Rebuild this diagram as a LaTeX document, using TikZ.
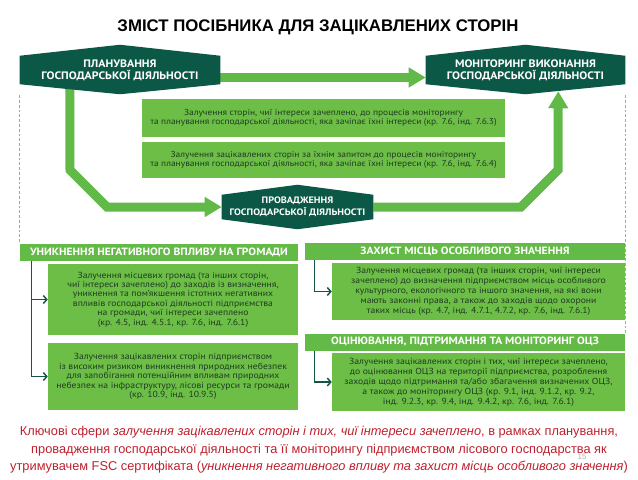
\documentclass[tikz,border=0pt]{standalone}
\usepackage{fontspec}
\setmainfont[FakeStretch=1.1]{PT Sans}
\newfontfamily\arialfont{Liberation Sans}
\usepackage{xcolor}
\usepackage{tikz}
\usetikzlibrary{calc,arrows.meta,backgrounds}

\definecolor{hexgreen}{RGB}{12,88,70}
\definecolor{flowgreen}{RGB}{97,185,72}
\definecolor{boxgreen}{RGB}{108,190,70}
\definecolor{hdrgreen}{RGB}{100,186,70}
\definecolor{textdark}{RGB}{32,60,34}
\definecolor{linkgreen}{RGB}{20,85,70}
\definecolor{capred}{RGB}{190,32,45}

% hexagon behind a named node: node, top rise, bottom drop
\newcommand{\hexfill}[3]{%
  \fill[hexgreen] (#1.north west) -- ($(#1.north)+(0,-#2)$) -- (#1.north east)
    -- (#1.south east) -- ($(#1.south)+(0,#3)$) -- (#1.south west) -- cycle;}

\begin{document}
\begin{tikzpicture}[x=0.75pt,y=-0.75pt,
  hexnode/.style={text=white,font=\fontsize{8.1}{8.8}\selectfont\bfseries,align=center,inner sep=0pt,minimum height=21pt},
  infobox/.style={fill=boxgreen,text=textdark,align=center,inner sep=0pt},
  hdrbar/.style={fill=hdrgreen,text=white,font=\fontsize{7.9}{9}\selectfont\bfseries,inner sep=0pt,minimum height=12.75pt},
  flow/.style={draw=flowgreen,line width=6.75pt,line join=miter,-{Triangle[length=12.75pt,width=14.25pt]}},
  link/.style={draw=linkgreen,line width=1.1pt,-{Straight Barb[length=2.6pt,width=6pt]}},
  guide/.style={draw=gray!70,line width=0.8pt,dash pattern=on 2pt off 1.6pt}]

  \useasboundingbox (0,0) rectangle (638,479);

  \node[font=\arialfont\bfseries\fontsize{12.6}{14}\selectfont] (title) at (318,27) {ЗМІСТ ПОСІБНИКА ДЛЯ ЗАЦІКАВЛЕНИХ СТОРІН};

  \node[hexnode,minimum width=150pt] (plan) at (120,70) {ПЛАНУВАННЯ\\ГОСПОДАРСЬКОЇ ДІЯЛЬНОСТІ};
  \node[hexnode,minimum width=149.25pt] (mon) at (525.5,70) {МОНІТОРИНГ ВИКОНАННЯ\\ГОСПОДАРСЬКОЇ ДІЯЛЬНОСТІ};
  \node[hexnode,minimum width=113.25pt,minimum height=18pt,font=\fontsize{7}{8.8}\selectfont\bfseries] (prod) at (297.5,207) {ПРОВАДЖЕННЯ\\ГОСПОДАРСЬКОЇ ДІЯЛЬНОСТІ};

  \begin{scope}[on background layer]
    \draw[flow] ($(plan.east)+(0,7.5)$) -- ($(mon.west)+(0,7.5)$);
    \draw[flow] ($(plan.south west)+(50,0)$) -- (70,170) -- (107,207) -- (prod.west);
    \draw[flow] (prod.east) -- (521,207) -- (558,170) -- ($(mon.south east)+(-67,7)$);
    \hexfill{plan}{11}{10}
    \hexfill{mon}{11}{10}
    \hexfill{prod}{10}{10}
  \end{scope}

  \node[infobox,minimum width=272.25pt,minimum height=28.5pt,font=\fontsize{6.45}{6.7}\selectfont] (mid1) at (323.5,118)
    {Залучення сторін, чиї інтереси зачеплено, до процесів моніторингу\\та планування господарської діяльності, яка зачіпає їхні інтереси (кр. 7.6, інд. 7.6.3)};
  \node[infobox,minimum width=272.25pt,minimum height=27pt,font=\fontsize{6.45}{6.7}\selectfont] (mid2) at (323.5,160)
    {Залучення зацікавлених сторін за їхнім запитом до процесів моніторингу\\та планування господарської діяльності, яка зачіпає їхні інтереси (кр. 7.6, інд. 7.6.4)};

  \node[hdrbar,minimum width=208.5pt] (hdrA) at (159,252.5) {УНИКНЕННЯ НЕГАТИВНОГО ВПЛИВУ НА ГРОМАДИ};
  \node[hdrbar,minimum width=240pt] (hdrB) at (465,251.5) {ЗАХИСТ МІСЦЬ ОСОБЛИВОГО ЗНАЧЕННЯ};
  \node[hdrbar,minimum width=240pt] (hdrC) at (465,342) {ОЦІНЮВАННЯ, ПІДТРИМАННЯ ТА МОНІТОРИНГ ОЦЗ};

  \draw[guide] ($(plan.south west)+(0,11)$) -- (hdrA.north west);
  \draw[guide] ($(mon.south east)+(0,11)$) -- (hdrC.north east);

  \node[infobox,minimum width=187.5pt,minimum height=53.25pt,font=\fontsize{6.6}{7.1}\selectfont] (boxA1) at (173,299.5)
    {Залучення місцевих громад (та інших сторін,\\чиї інтереси зачеплено) до заходів із визначення,\\уникнення та пом’якшення істотних негативних\\впливів господарської діяльності підприємства\\на громади, чиї інтереси зачеплено\\(кр. 4.5, інд. 4.5.1, кр. 7.6, інд. 7.6.1)};
  \node[infobox,minimum width=187.5pt,minimum height=50.25pt,font=\fontsize{6.6}{7.1}\selectfont] (boxA2) at (173,376.5)
    {Залучення зацікавлених сторін підприємством\\із високим ризиком виникнення природних небезпек\\для запобігання потенційним впливам природних\\небезпек на інфраструктуру, лісові ресурси та громади\\(кр. 10.9, інд. 10.9.5)};
  \node[infobox,minimum width=219.75pt,minimum height=42.75pt,font=\fontsize{6.6}{7.5}\selectfont] (boxB1) at (478.5,291.5)
    {Залучення місцевих громад (та інших сторін, чиї інтереси\\зачеплено) до визначення підприємством місць особливого\\культурного, екологічного та іншого значення, на які вони\\мають законні права, а також до заходів щодо охорони\\таких місць (кр. 4.7, інд. 4.7.1, 4.7.2, кр. 7.6, інд. 7.6.1)};
  \node[infobox,minimum width=219.75pt,minimum height=43.5pt,font=\fontsize{6.6}{7.5}\selectfont] (boxC1) at (478.5,382)
    {Залучення зацікавлених сторін і тих, чиї інтереси зачеплено,\\до оцінювання ОЦЗ на території підприємства, розроблення\\заходів щодо підтримання та/або збагачення визначених ОЦЗ,\\а також до моніторингу ОЦЗ (кр. 9.1, інд. 9.1.2, кр. 9.2,\\інд. 9.2.3, кр. 9.4, інд. 9.4.2, кр. 7.6, інд. 7.6.1)};

  \draw[link] ($(hdrA.south west)+(12,0)$) |- (boxA1.west);
  \draw[link] ($(hdrA.south west)+(12,0)$) |- (boxA2.west);
  \draw[link] ($(hdrB.south west)+(10,0)$) |- (boxB1.west);
  \draw[link] ($(hdrC.south west)+(10,0)$) |- (boxC1.west);

  \node[font=\arialfont\fontsize{9.6}{13.1}\selectfont,text=capred,align=center] (note) at (319,450)
    {Ключові сфери \textit{залучення зацікавлених сторін і тих, чиї інтереси зачеплено}, в рамках планування,\\провадження господарської діяльності та її моніторингу підприємством лісового господарства як\\утримувачем FSC сертифіката (\textit{уникнення негативного впливу та захист місць особливого значення})};
  \node[font=\arialfont\fontsize{6}{7}\selectfont,text=gray!60] (pagenum) at (582,457) {15};
\end{tikzpicture}
\end{document}
